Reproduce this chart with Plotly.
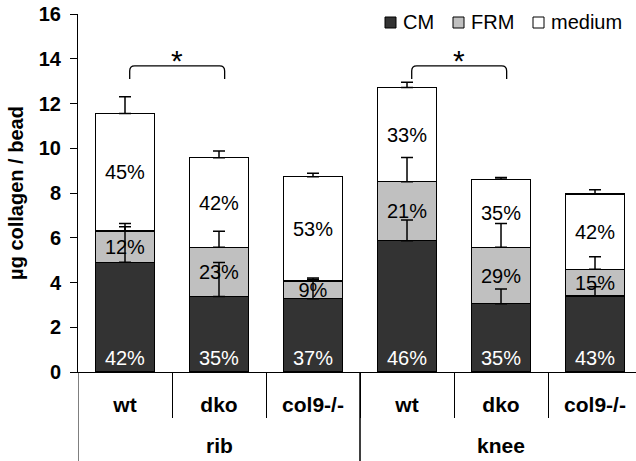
import plotly.graph_objects as go

# Tissue groups and genotypes
tissue = ["rib", "rib", "rib", "knee", "knee", "knee"]
genotype = ["wt", "dko", "col9-/-", "wt", "dko", "col9-/-"]

# Mean collagen per bead (µg) in each fraction
cm = [4.90, 3.37, 3.27, 5.87, 3.05, 3.40]
frm = [1.40, 2.20, 0.80, 2.63, 2.52, 1.19]
medium = [5.25, 4.01, 4.66, 4.22, 3.04, 3.36]

# Upper error (SD) of each fraction
cm_err = [1.59, 1.52, 0.88, 0.92, 0.66, 0.41]
frm_err = [0.34, 0.72, 0.13, 1.09, 1.07, 0.56]
medium_err = [0.75, 0.30, 0.15, 0.23, 0.08, 0.20]

# Share of each fraction in the total
cm_pct = ["42%", "35%", "37%", "46%", "35%", "43%"]
frm_pct = ["12%", "23%", "9%", "21%", "29%", "15%"]
medium_pct = ["45%", "42%", "53%", "33%", "35%", "42%"]

# Significant pairs (category indices)
sig_pairs = [(0, 1), (3, 4)]

FONT = "Liberation Sans, Arial, sans-serif"
X_RANGE = [-0.5, 5.436]
Y_RANGE = [0, 16]
idx = list(range(len(genotype)))

fig = go.Figure()


def add_fraction(name, values, labels, fill, text_color, anchor):
    fig.add_trace(go.Bar(
        name=name,
        x=idx,
        y=values,
        width=0.63,
        marker=dict(color=fill, line=dict(color="black", width=1.3)),
        text=labels,
        textposition="inside",
        insidetextanchor=anchor,
        textangle=0,
        constraintext="none",
        insidetextfont=dict(family=FONT, size=20, color=text_color),
        cliponaxis=False,
        showlegend=False,
    ))


add_fraction("CM", cm, cm_pct, "#333333", "white", "start")
add_fraction("FRM", frm, frm_pct, "#c0c0c0", "black", "middle")
add_fraction("medium", medium, medium_pct, "white", "black", "middle")

# Error bars sit on top of each stacked segment and above all bars
tops = []
running = [0.0] * len(cm)
for seg in (cm, frm, medium):
    running = [r + v for r, v in zip(running, seg)]
    tops.append(list(running))

for top, errs in zip(tops, (cm_err, frm_err, medium_err)):
    fig.add_trace(go.Scatter(
        x=idx, y=top, mode="markers",
        marker=dict(size=0.1, opacity=0),
        error_y=dict(type="data", array=errs, arrayminus=[0] * len(errs),
                     symmetric=False, color="black", thickness=1.5, width=6),
        hoverinfo="skip",
        cliponaxis=False,
        showlegend=False,
    ))

W, H = 636, 461
ML, MR, MT, MB = 78, 0, 14, 89
PW, PH = W - ML - MR, H - MT - MB


def px_x(px):
    return (px - ML) / PW


def px_y(py):
    return (H - MB - py) / PH


def cat_x(i):
    return (i - X_RANGE[0]) / (X_RANGE[1] - X_RANGE[0])


shapes = []
annotations = []

# Group labels and the long dividers between tissue groups
groups = []
for i, t in enumerate(tissue):
    if not groups or groups[-1][0] != t:
        groups.append([t, i, i])
    else:
        groups[-1][2] = i
for name, first, last in groups:
    annotations.append(dict(x=(first + last) / 2, y=px_y(445), xref="x", yref="paper",
                            text=name, showarrow=False, xanchor="center", yanchor="middle",
                            font=dict(family=FONT, size=21, color="black", weight="bold")))
    for edge in (first - 0.5, last + 0.5):
        shapes.append(dict(type="line", xref="x", yref="paper",
                           x0=edge, x1=edge, y0=0, y1=px_y(H + 2),
                           line=dict(color="black", width=1)))

# Significance brackets with asterisks
rx = 5 / PW
ry = 5 * (Y_RANGE[1] - Y_RANGE[0]) / PH
y_low, y_top = 13.1, 13.68
for a, b in sig_pairs:
    x0 = cat_x(a) + 0.05 / (X_RANGE[1] - X_RANGE[0])
    x1 = cat_x(b) + 0.06 / (X_RANGE[1] - X_RANGE[0])
    path = (f"M{x0},{y_low} L{x0},{y_top - ry} Q{x0},{y_top} {x0 + rx},{y_top} "
            f"L{x1 - rx},{y_top} Q{x1},{y_top} {x1},{y_top - ry} L{x1},{y_low}")
    shapes.append(dict(type="path", path=path, xref="paper", yref="y",
                       line=dict(color="black", width=1.3)))
    annotations.append(dict(x=(x0 + x1) / 2, y=13.9, xref="paper", yref="y",
                            text="*", showarrow=False, xanchor="center",
                            yanchor="middle",
                            font=dict(family=FONT, size=30, color="black")))

# Legend
legend_items = [("CM", "#333333", 385), ("FRM", "#c0c0c0", 453), ("medium", "white", 533)]
for name, fill, left in legend_items:
    shapes.append(dict(type="rect", xref="paper", yref="paper",
                       x0=px_x(left), x1=px_x(left + 11),
                       y0=px_y(28), y1=px_y(17),
                       fillcolor=fill, line=dict(color="black", width=1)))
    annotations.append(dict(x=px_x(left + 16), y=px_y(22), xref="paper", yref="paper",
                            text=name, showarrow=False, xanchor="left", yanchor="middle",
                            font=dict(family=FONT, size=20, color="black")))

fig.update_layout(
    width=W, height=H,
    margin=dict(l=ML, r=MR, t=MT, b=MB, pad=0),
    barmode="stack",
    plot_bgcolor="white",
    paper_bgcolor="white",
    font=dict(family=FONT, color="black"),
    shapes=shapes,
    annotations=annotations,
    showlegend=False,
)

fig.update_xaxes(
    range=X_RANGE,
    showline=True, linecolor="black", linewidth=1,
    tickmode="array", tickvals=idx, ticktext=genotype,
    ticks="",
    ticklabelstandoff=14,
    minor=dict(tickmode="array",
               tickvals=[i + 0.5 for i in idx[:-1]],
               ticks="outside", ticklen=45, tickcolor="black", showgrid=False),
    tickfont=dict(family=FONT, size=21, color="black", weight="bold"),
    showgrid=False, zeroline=False,
)

fig.update_yaxes(
    range=Y_RANGE, dtick=2,
    showline=True, linecolor="black", linewidth=1,
    ticks="outside", ticklen=7, tickcolor="black",
    ticklabelstandoff=5,
    tickfont=dict(family=FONT, size=20, color="black", weight="bold"),
    title=dict(text="µg collagen / bead", standoff=9,
               font=dict(family=FONT, size=20, color="black", weight="bold")),
    showgrid=False, zeroline=False,
)

fig.write_html("out.html")
